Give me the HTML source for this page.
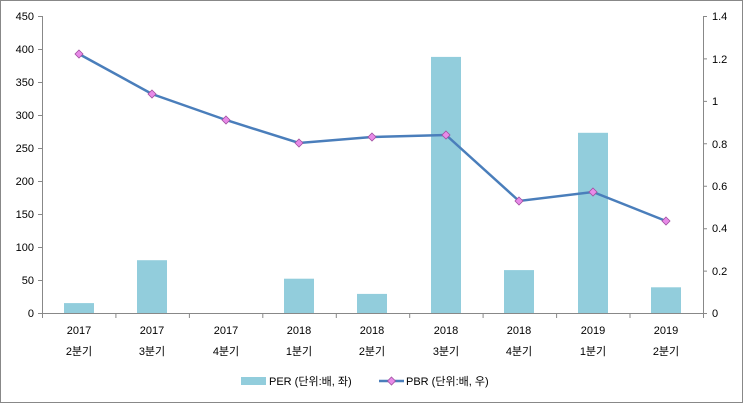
<!DOCTYPE html>
<html><head><meta charset="utf-8"><style>
html,body{margin:0;padding:0;background:#fff;}
svg{display:block;font-family:"Liberation Sans","Noto Sans CJK KR",sans-serif;}
</style></head><body>
<svg width="743" height="403" viewBox="0 0 743 403" xmlns="http://www.w3.org/2000/svg">
<rect x="0.5" y="0.5" width="742" height="402" fill="#fff" stroke="#888"/>
<g fill="#92cddc">
<rect x="64" y="303.1" width="30" height="9.9"/>
<rect x="137" y="260.2" width="30" height="52.8"/>
<rect x="284" y="278.7" width="30" height="34.3"/>
<rect x="357" y="293.9" width="30" height="19.1"/>
<rect x="431" y="56.9" width="30" height="256.1"/>
<rect x="504" y="270.1" width="30" height="42.9"/>
<rect x="578" y="132.8" width="30" height="180.2"/>
<rect x="651" y="287.3" width="30" height="25.7"/>
</g>
<g stroke="#888" stroke-width="1" fill="none">
<line x1="42.5" y1="16" x2="42.5" y2="313"/>
<line x1="703.5" y1="16" x2="703.5" y2="313"/>
<line x1="42" y1="313.5" x2="703" y2="313.5"/>
<path d="M38 16.5h4M38 49.5h4M38 82.5h4M38 115.5h4M38 148.5h4M38 181.5h4M38 214.5h4M38 247.5h4M38 280.5h4M38 313.5h4"/>
<path d="M703 16.5h4M703 58.9h4M703 101.4h4M703 143.8h4M703 186.3h4M703 228.7h4M703 271.1h4M703 313.5h4"/>
<path d="M42.5 313v5M115.9 313v5M189.4 313v5M262.8 313v5M336.3 313v5M409.7 313v5M483.1 313v5M556.6 313v5M630 313v5M703.5 313v5"/>
</g>
<g font-size="11" fill="#000" text-anchor="end">
<text x="34" y="20">450</text><text x="34" y="53">400</text><text x="34" y="86">350</text><text x="34" y="119">300</text><text x="34" y="152">250</text><text x="34" y="185">200</text><text x="34" y="218">150</text><text x="34" y="251">100</text><text x="34" y="284">50</text><text x="34" y="317">0</text>
</g>
<g font-size="11" fill="#000" text-anchor="start">
<text x="712" y="20">1.4</text><text x="712" y="63">1.2</text><text x="712" y="105">1</text><text x="712" y="148">0.8</text><text x="712" y="190">0.6</text><text x="712" y="232">0.4</text><text x="712" y="275">0.2</text><text x="712" y="317">0</text>
</g>
<g font-size="11" fill="#000" text-anchor="middle">
<text x="79" y="334">2017</text><text x="79" y="355">2분기</text>
<text x="152" y="334">2017</text><text x="152" y="355">3분기</text>
<text x="226" y="334">2017</text><text x="226" y="355">4분기</text>
<text x="299" y="334">2018</text><text x="299" y="355">1분기</text>
<text x="372" y="334">2018</text><text x="372" y="355">2분기</text>
<text x="446" y="334">2018</text><text x="446" y="355">3분기</text>
<text x="519" y="334">2018</text><text x="519" y="355">4분기</text>
<text x="593" y="334">2019</text><text x="593" y="355">1분기</text>
<text x="666" y="334">2019</text><text x="666" y="355">2분기</text>
</g>
<polyline fill="none" stroke="#4a7ebb" stroke-width="2.5" points="79,54 152,94 226,120 299,143 372,137 446,135 519,201 593,192 666,221"/>
<g fill="#e88ae8" stroke="#a050a0" stroke-width="0.8">
<path d="M79 50l4 4-4 4-4-4z"/><path d="M152 90l4 4-4 4-4-4z"/><path d="M226 116l4 4-4 4-4-4z"/><path d="M299 139l4 4-4 4-4-4z"/><path d="M372 133l4 4-4 4-4-4z"/><path d="M446 131l4 4-4 4-4-4z"/><path d="M519 197l4 4-4 4-4-4z"/><path d="M593 188l4 4-4 4-4-4z"/><path d="M666 217l4 4-4 4-4-4z"/>
</g>
<rect x="241" y="377" width="25" height="8" fill="#92cddc"/>
<text x="269" y="385" font-size="11">PER (단위:배, 좌)</text>
<line x1="379" y1="381" x2="404" y2="381" stroke="#4a7ebb" stroke-width="2.5"/>
<path d="M391.5 377l4 4-4 4-4-4z" fill="#e88ae8" stroke="#a050a0" stroke-width="0.8"/>
<text x="406" y="385" font-size="11">PBR (단위:배, 우)</text>
</svg>
</body></html>
